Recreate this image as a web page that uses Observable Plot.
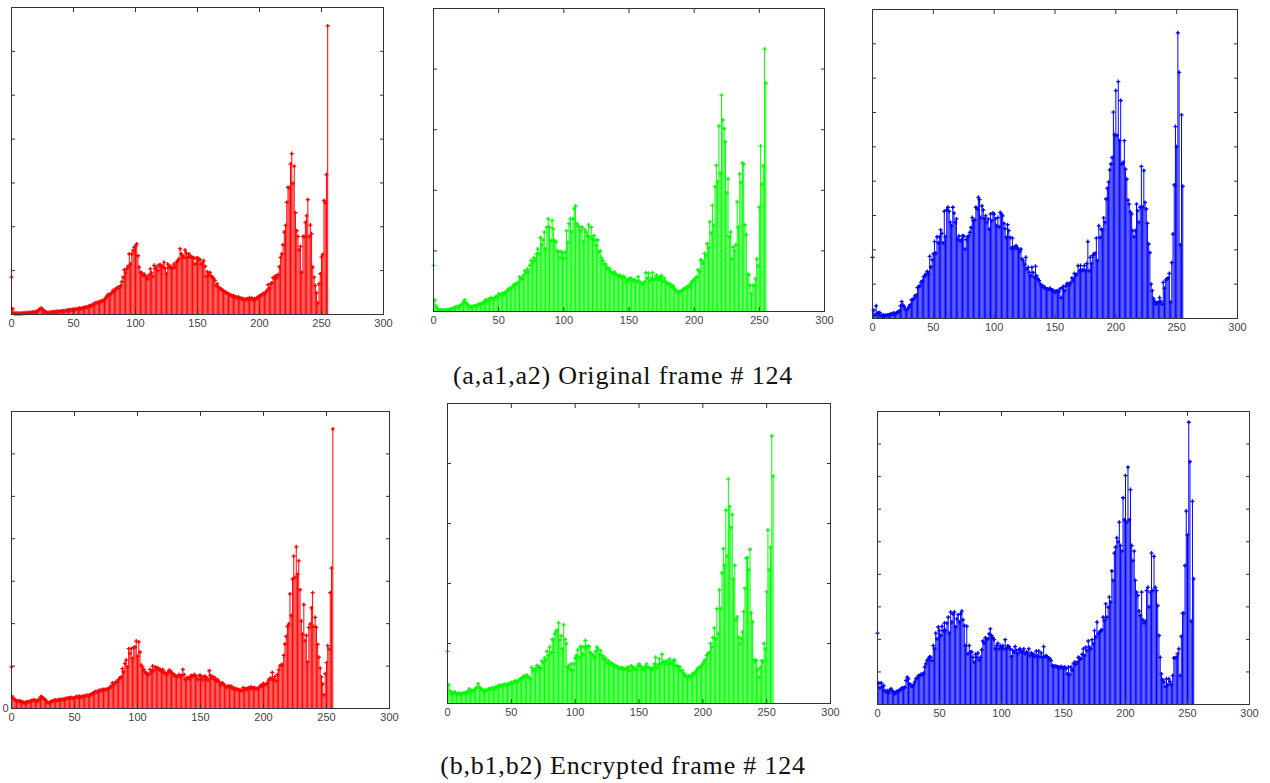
<!DOCTYPE html>
<html><head><meta charset="utf-8">
<script src="https://cdn.jsdelivr.net/npm/d3@7"></script>
<script src="https://cdn.jsdelivr.net/npm/@observablehq/plot@0.6"></script>
<style>
body{margin:0;background:#fff;}
#root{position:relative;width:1270px;height:783px;overflow:hidden;background:#fff;}
.panel{position:absolute;}
.caption{position:absolute;left:0;width:1246px;text-align:center;font-family:"Liberation Serif","DejaVu Serif",serif;font-size:26px;letter-spacing:0.8px;line-height:30px;color:#111;white-space:nowrap;}
</style></head><body><div id="root"></div>
<script>
// Histogram counts per grey level 0..255 (in units of one y-tick interval)
const redOriginal = [
0.85,0.13,0.04,0.02,0.03,0.02,0.03,0.02,0.03,0.03,
0.03,0.04,0.03,0.04,0.04,0.05,0.04,0.05,0.05,0.06,
0.06,0.08,0.1,0.13,0.14,0.12,0.09,0.06,0.05,0.04,
0.04,0.05,0.05,0.05,0.06,0.06,0.06,0.07,0.07,0.07,
0.07,0.08,0.08,0.08,0.09,0.09,0.1,0.1,0.11,0.11,
0.12,0.11,0.13,0.12,0.13,0.14,0.13,0.15,0.15,0.16,
0.17,0.16,0.18,0.2,0.19,0.22,0.23,0.25,0.26,0.27,
0.28,0.28,0.3,0.3,0.32,0.34,0.38,0.42,0.46,0.44,
0.47,0.5,0.55,0.53,0.58,0.6,0.62,0.62,0.66,0.75,
0.85,1.02,0.95,1.04,1.1,1.38,1.15,1.38,1.46,1.53,
1.56,1.61,1.34,1.08,0.96,0.95,0.89,0.92,0.88,0.85,
0.81,0.9,1.04,0.95,0.87,1.12,1.05,1.08,1.0,1.13,
1.13,1.08,1.1,1.19,1.05,0.93,1.15,1.08,1.1,1.06,
1.06,1.15,1.08,1.19,1.22,1.27,1.5,1.38,1.34,1.3,
1.47,1.4,1.3,1.38,1.33,1.31,1.3,1.29,1.15,1.28,
1.29,1.27,1.25,1.15,1.18,1.23,1.1,0.87,0.97,0.92,
0.96,0.88,0.85,0.82,0.78,0.66,0.7,0.62,0.6,0.58,
0.55,0.54,0.52,0.5,0.48,0.47,0.45,0.44,0.42,0.43,
0.41,0.4,0.38,0.4,0.37,0.37,0.35,0.36,0.33,0.35,
0.36,0.34,0.38,0.35,0.37,0.33,0.36,0.35,0.38,0.4,
0.42,0.43,0.45,0.48,0.47,0.51,0.55,0.68,0.6,0.7,
0.72,0.84,0.84,0.88,0.84,0.91,1.09,1.3,1.38,1.59,
1.88,2.03,2.56,2.9,2.89,3.43,3.67,2.99,3.38,2.32,
1.91,1.78,1.47,1.55,0.96,1.78,1.78,2.1,2.25,2.62,
1.78,2.04,1.84,1.08,0.85,0.66,0.49,0.26,0.7,0.93,
1.31,1.37,2.6,2.55,3.19,6.58];
const greenOriginal = [
0.76,0.19,0.09,0.04,0.03,0.02,0.03,0.02,0.02,0.03,
0.02,0.03,0.03,0.04,0.04,0.05,0.06,0.07,0.08,0.08,
0.09,0.1,0.12,0.16,0.19,0.14,0.12,0.1,0.08,0.08,
0.08,0.09,0.09,0.1,0.11,0.12,0.12,0.13,0.14,0.16,
0.19,0.17,0.2,0.18,0.23,0.21,0.2,0.22,0.25,0.24,
0.29,0.27,0.28,0.3,0.29,0.31,0.33,0.35,0.38,0.37,
0.39,0.42,0.45,0.44,0.46,0.48,0.57,0.53,0.55,0.6,
0.67,0.64,0.7,0.65,0.76,0.84,0.8,0.89,0.85,0.95,
1.03,0.95,1.22,1.1,1.18,1.31,1.03,1.39,1.53,1.39,
1.17,1.5,1.36,1.17,1.15,1.0,0.98,0.89,0.99,0.95,
0.88,0.98,1.33,1.14,1.45,1.53,1.31,1.53,1.7,1.74,
1.45,1.41,1.4,1.33,1.39,1.16,1.35,1.31,1.25,1.43,
1.23,1.39,1.2,1.25,1.18,1.09,1.18,0.98,1.0,0.89,
0.84,0.78,0.78,0.73,0.7,0.71,0.66,0.64,0.62,0.65,
0.61,0.6,0.58,0.6,0.57,0.56,0.58,0.55,0.48,0.52,
0.53,0.55,0.54,0.5,0.52,0.51,0.49,0.57,0.5,0.47,
0.45,0.47,0.49,0.64,0.55,0.63,0.5,0.55,0.64,0.52,
0.55,0.6,0.58,0.52,0.56,0.59,0.5,0.55,0.5,0.47,
0.45,0.46,0.44,0.4,0.42,0.37,0.35,0.33,0.3,0.33,
0.34,0.35,0.37,0.38,0.4,0.41,0.4,0.45,0.48,0.51,
0.52,0.55,0.57,0.69,0.66,0.85,0.84,0.8,0.96,0.92,
1.12,1.05,1.48,1.3,1.75,1.42,2.06,2.41,2.14,3.06,
2.28,3.57,3.16,3.02,2.8,1.96,2.19,1.23,1.31,0.87,
1.06,1.0,1.1,1.81,1.39,2.27,2.13,2.45,2.43,1.43,
1.27,0.61,0.61,0.43,0.29,0.43,0.43,0.54,0.87,0.75,
1.72,2.73,2.1,2.4,4.33,3.77];
const blueOriginal = [
1.78,0.24,0.1,0.37,0.15,0.17,0.17,0.09,0.08,0.1,
0.08,0.09,0.1,0.1,0.11,0.13,0.12,0.15,0.15,0.14,
0.17,0.19,0.22,0.37,0.49,0.39,0.35,0.27,0.25,0.28,
0.34,0.4,0.54,0.55,0.58,0.66,0.68,0.9,0.93,0.95,
1.05,1.1,1.21,1.25,1.29,1.37,1.3,1.81,1.5,1.71,
1.88,2.24,1.9,2.38,2.2,2.38,2.58,2.48,2.2,3.12,
2.38,3.16,3.24,3.12,2.8,2.7,3.24,3.07,2.8,2.9,
2.31,2.4,2.26,2.3,2.41,2.4,2.02,2.3,2.38,2.4,
2.51,2.65,2.94,2.85,2.87,3.24,3.19,3.53,3.46,2.94,
3.28,3.16,2.9,2.99,2.8,2.9,2.6,3.04,2.85,3.07,
3.04,2.9,2.7,2.94,2.67,3.09,3.04,2.99,2.77,2.62,
2.36,2.73,2.56,2.36,2.05,2.34,2.07,2.05,2.12,2.06,
2.02,1.95,2.02,1.73,1.68,1.58,1.78,1.44,1.49,1.34,
1.24,1.49,1.34,1.2,1.52,1.24,1.15,1.1,1.0,0.95,
0.95,0.9,0.9,0.85,0.86,0.85,0.88,0.82,0.83,0.8,
0.76,0.8,0.79,0.78,0.86,0.61,0.9,0.93,0.81,0.95,
1.02,1.0,0.98,1.05,1.18,1.12,1.31,1.25,1.29,1.54,
1.39,1.54,1.4,1.41,1.54,1.39,1.6,2.24,1.39,1.78,
1.6,1.83,1.88,1.9,2.34,1.68,2.7,2.36,2.6,2.58,
2.93,2.8,3.48,3.79,3.97,4.33,4.5,4.69,6.01,5.35,
6.64,5.33,6.9,5.18,6.35,4.5,4.55,5.18,4.35,4.06,
3.45,3.33,3.1,3.04,2.56,2.38,2.56,3.33,3.14,2.8,
3.24,4.43,3.24,4.31,3.38,3.19,2.77,2.17,1.92,1.0,
0.81,0.58,0.5,0.42,0.45,0.47,0.61,0.5,0.42,1.05,
0.88,1.12,1.15,1.18,1.31,0.47,1.63,2.46,3.89,5.59,
5.0,8.32,7.17,2.14,5.93,3.85];
const redEncrypted = [
0.98,0.27,0.22,0.2,0.18,0.17,0.18,0.17,0.16,0.15,
0.13,0.14,0.15,0.16,0.16,0.17,0.18,0.19,0.2,0.19,
0.17,0.19,0.22,0.27,0.28,0.25,0.22,0.2,0.16,0.13,
0.14,0.15,0.17,0.18,0.19,0.2,0.19,0.2,0.21,0.2,
0.21,0.22,0.22,0.23,0.24,0.24,0.25,0.26,0.25,0.24,
0.25,0.27,0.28,0.27,0.28,0.27,0.28,0.29,0.29,0.3,
0.31,0.3,0.31,0.33,0.35,0.37,0.38,0.4,0.39,0.41,
0.43,0.42,0.44,0.45,0.44,0.45,0.46,0.46,0.5,0.52,
0.6,0.55,0.6,0.63,0.62,0.68,0.72,0.74,0.94,0.86,
1.06,1.14,0.98,1.41,1.3,1.41,1.18,1.44,1.45,1.59,
1.23,1.57,1.33,1.02,0.98,0.92,0.86,0.82,0.82,0.8,
0.92,0.86,1.0,0.9,0.98,0.95,0.96,0.92,0.92,0.88,
0.92,0.86,0.82,0.8,0.84,0.9,0.89,0.85,0.82,0.78,
0.78,0.75,0.76,0.8,0.75,0.78,0.92,0.8,0.68,0.72,
0.72,0.7,0.76,0.78,0.76,0.8,0.78,0.72,0.68,0.78,
0.78,0.74,0.68,0.76,0.75,0.72,0.67,0.89,0.78,0.72,
0.75,0.68,0.71,0.65,0.67,0.62,0.55,0.6,0.59,0.55,
0.51,0.5,0.53,0.5,0.53,0.48,0.49,0.46,0.47,0.45,
0.45,0.43,0.43,0.42,0.49,0.45,0.47,0.45,0.49,0.46,
0.51,0.47,0.49,0.48,0.47,0.46,0.49,0.5,0.55,0.53,
0.59,0.56,0.57,0.6,0.67,0.7,0.71,0.85,0.67,0.75,
0.66,0.8,0.91,1.0,1.03,1.03,1.25,1.52,1.7,1.93,
1.99,2.7,2.19,3.05,3.59,3.09,3.81,3.16,3.48,2.8,
2.06,1.75,2.45,1.6,1.72,1.09,1.91,1.99,2.37,2.73,
1.93,2.15,1.91,1.51,1.21,0.95,0.74,0.58,0.32,0.82,
1.08,1.48,1.4,2.73,3.31,6.59];
const greenEncrypted = [
0.87,0.31,0.21,0.16,0.18,0.18,0.19,0.15,0.16,0.17,
0.16,0.16,0.17,0.17,0.18,0.18,0.2,0.24,0.22,0.21,
0.21,0.23,0.25,0.27,0.33,0.27,0.25,0.23,0.2,0.22,
0.21,0.23,0.24,0.23,0.25,0.26,0.25,0.24,0.28,0.27,
0.3,0.29,0.3,0.3,0.31,0.32,0.31,0.32,0.33,0.32,
0.35,0.34,0.36,0.38,0.36,0.37,0.39,0.41,0.42,0.43,
0.46,0.45,0.47,0.45,0.43,0.41,0.6,0.55,0.55,0.58,
0.63,0.62,0.61,0.58,0.71,0.68,0.76,0.72,0.87,0.8,
0.94,0.85,1.07,1.06,1.16,1.21,1.22,1.34,1.06,1.13,
0.91,1.31,1.07,1.0,0.6,0.63,0.57,0.66,0.55,0.66,
0.76,0.8,0.89,0.77,0.94,0.95,0.82,0.94,1.05,0.94,
0.96,0.95,0.85,0.82,0.81,0.76,0.87,0.94,0.91,0.82,
0.88,0.8,0.74,0.77,0.74,0.68,0.71,0.66,0.68,0.66,
0.65,0.62,0.63,0.6,0.6,0.58,0.59,0.6,0.57,0.58,
0.57,0.6,0.6,0.55,0.63,0.6,0.59,0.58,0.55,0.62,
0.66,0.63,0.6,0.58,0.57,0.62,0.66,0.6,0.6,0.57,
0.56,0.6,0.66,0.77,0.6,0.65,0.74,0.66,0.82,0.7,
0.66,0.7,0.71,0.65,0.74,0.69,0.66,0.72,0.72,0.63,
0.63,0.6,0.61,0.55,0.55,0.5,0.48,0.45,0.43,0.46,
0.46,0.45,0.5,0.48,0.52,0.55,0.58,0.6,0.61,0.63,
0.66,0.7,0.73,0.8,0.83,0.85,1.0,0.94,1.1,1.26,
1.08,1.58,1.16,1.89,1.58,2.18,2.58,2.3,3.22,2.46,
3.74,3.28,2.93,3.15,2.07,2.3,1.39,1.44,1.1,1.0,
1.08,1.19,1.53,1.92,2.42,2.43,2.23,2.57,1.51,1.36,
0.73,0.7,0.72,0.56,0.44,0.6,0.71,0.7,1.0,0.91,
1.86,2.89,2.23,2.6,4.46,3.79];
const blueEncrypted = [
2.19,0.66,0.51,0.66,0.55,0.58,0.43,0.38,0.42,0.35,
0.45,0.48,0.41,0.38,0.33,0.38,0.41,0.42,0.43,0.48,
0.51,0.5,0.53,0.74,0.84,0.79,0.63,0.58,0.55,0.6,
0.69,0.79,0.82,0.88,0.89,0.92,0.92,0.96,1.15,1.25,
1.35,1.4,1.47,1.45,1.35,1.81,1.71,2.19,2.02,2.38,
2.27,2.12,2.4,2.27,2.5,2.27,2.5,2.68,2.19,2.84,
2.53,2.78,2.84,2.38,2.63,2.76,2.53,2.78,2.87,2.6,
2.43,1.81,2.4,1.56,1.81,1.61,1.61,1.45,1.3,1.54,
1.45,1.58,1.37,1.45,1.68,1.95,1.88,2.05,1.99,2.02,
2.17,2.32,2.12,2.05,1.99,1.71,1.81,1.88,1.71,1.81,
1.76,1.81,1.71,1.99,1.71,1.8,1.78,1.71,1.47,1.66,
1.61,1.78,1.66,1.56,1.68,1.71,1.61,1.63,1.71,1.56,
1.61,1.58,1.71,1.5,1.58,1.54,1.54,1.47,1.64,1.5,
1.64,1.47,1.58,1.45,1.78,1.47,1.5,1.47,1.43,1.4,
1.35,1.2,1.17,1.18,1.17,1.16,1.15,1.12,1.17,1.13,
1.13,1.15,1.1,0.94,1.15,0.92,1.15,1.06,1.25,1.3,
1.23,1.3,1.45,1.42,1.4,1.54,1.71,1.5,1.76,1.66,
1.95,1.76,1.71,1.99,1.86,2.27,2.07,2.53,2.17,2.22,
2.27,2.29,2.68,2.58,3.09,2.68,2.99,3.3,3.14,4.1,
3.81,4.65,4.83,5.12,5.0,5.6,4.88,4.71,6.35,5.67,
7.03,5.6,7.29,5.67,6.6,4.88,4.42,4.71,3.81,3.45,
3.35,2.87,2.73,3.45,2.6,2.5,2.55,3.5,3.6,3.0,
3.45,4.65,3.5,4.55,3.6,3.5,3.04,2.12,1.45,0.94,
0.76,0.69,0.55,0.79,0.6,0.79,0.7,0.6,0.89,1.43,
1.43,1.45,1.56,1.71,0.89,2.09,2.8,2.8,4.27,5.94,
5.2,8.67,7.46,2.56,6.24,3.86];

const xTicks = [0, 50, 100, 150, 200, 250, 300];
const captions = ["(a,a1,a2) Original frame # 124", "(b,b1,b2) Encrypted frame # 124"];

// layout: frame box of each panel in page pixels, and number of y-tick intervals
const panels = [
  {values: redOriginal,    color: "#ff0000", yMax: 7, x0: 11,  x1: 383,  y0: 7,   y1: 314, zeroLabel: false},
  {values: greenOriginal,  color: "#00ff00", yMax: 5, x0: 433, x1: 824,  y0: 8,   y1: 311, zeroLabel: false},
  {values: blueOriginal,   color: "#0000ff", yMax: 9, x0: 872, x1: 1237, y0: 9,   y1: 318, zeroLabel: false},
  {values: redEncrypted,   color: "#ff0000", yMax: 7, x0: 11,  x1: 389,  y0: 411, y1: 708, zeroLabel: true},
  {values: greenEncrypted, color: "#00ff00", yMax: 5, x0: 447, x1: 830,  y0: 403, y1: 703, zeroLabel: false},
  {values: blueEncrypted,  color: "#0000ff", yMax: 9, x0: 877, x1: 1249, y0: 411, y1: 704, zeroLabel: false}
];
const captionTops = [361, 751];

const root = document.getElementById("root");
const mL = 14, mR = 14, mT = 4, mB = 22;
for (const p of panels) {
  const data = p.values.map((v, i) => ({level: i, count: v}));
  const yTicks = d3.range(0, p.yMax + 1);
  const svg = Plot.plot({
    width: (p.x1 - p.x0) + mL + mR,
    height: (p.y1 - p.y0) + mT + mB,
    marginLeft: mL, marginRight: mR, marginTop: mT, marginBottom: mB,
    x: {domain: [0, 300]},
    y: {domain: [0, p.yMax]},
    style: {background: "transparent", fontFamily: "'Liberation Sans', Arial, sans-serif", fontSize: "11px", color: "#444", overflow: "visible"},
    marks: [
      Plot.ruleX(data, {x: "level", y1: 0, y2: "count", stroke: p.color, strokeWidth: 1}),
      Plot.dot(data, {x: "level", y: "count", symbol: "plus", r: 1.4, stroke: p.color, strokeWidth: 1.3}),
      Plot.axisX({anchor: "bottom", ticks: xTicks, tickSize: -4, tickPadding: 9, label: null, stroke: "#333", fill: "#444"}),
      Plot.axisX({anchor: "top", ticks: xTicks, tickSize: -4, tickFormat: () => "", label: null, stroke: "#333"}),
      Plot.axisY({anchor: "left", ticks: yTicks, tickSize: -4, tickPadding: 7, label: null, stroke: "#333", fill: "#444",
                  tickFormat: d => (p.zeroLabel && d === 0) ? "0" : ""}),
      Plot.axisY({anchor: "right", ticks: yTicks, tickSize: -4, tickFormat: () => "", label: null, stroke: "#333"}),
      Plot.frame({stroke: "#333"})
    ]
  });
  svg.classList.add("panel");
  svg.style.left = (p.x0 - mL) + "px";
  svg.style.top = (p.y0 - mT) + "px";
  root.appendChild(svg);
}
captions.forEach((t, i) => {
  const d = document.createElement("div");
  d.className = "caption";
  d.style.top = captionTops[i] + "px";
  d.textContent = t;
  root.appendChild(d);
});
</script></body></html>
